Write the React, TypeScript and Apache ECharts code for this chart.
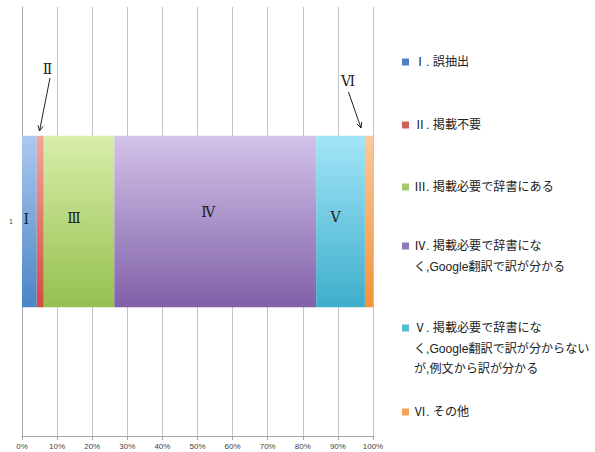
import React, { useEffect, useRef } from "react";
import * as echarts from "echarts";

const categories = ["1"];
const seriesNames = [
  "Ⅰ. 誤抽出",
  "Ⅱ. 掲載不要",
  "Ⅲ. 掲載必要で辞書にある",
  "Ⅳ. 掲載必要で辞書にな\nく,Google翻訳で訳が分かる",
  "Ⅴ. 掲載必要で辞書にな\nく,Google翻訳で訳が分からない\nが,例文から訳が分かる",
  "Ⅵ. その他",
];
const seriesValues = [4.2, 2.0, 20.1, 57.5, 13.9, 2.3];
const barLabels = ["Ⅰ", "", "Ⅲ", "Ⅳ", "Ⅴ", ""];

const topColors = ["#acc9f0", "#f4a59c", "#d9eeaa", "#d3c3e9", "#a3e5f8", "#fbc99a"];
const bottomColors = ["#4a85c6", "#d24b42", "#95c04f", "#8060a8", "#3eaecb", "#f3923a"];
const legendColors = ["#4f81bd", "#d0605a", "#a6c96a", "#9078b4", "#54bcd8", "#f7a058"];
const labelOffsets = [[-3, -3], [0, 0], [-5, -4], [-7, -10], [-5, -5], [0, 0]];
const legendCenters = [62, 125, 187, 246, 328, 412];

export default function App() {
  const ref = useRef<HTMLDivElement>(null);
  useEffect(() => {
    if (!ref.current) return;
    const chart = echarts.init(ref.current, null, { renderer: "svg" });
    const h = 20.5;
    const legends = seriesNames.map((name, i) => {
      const lines = name.split("\n").length;
      const tall = lines * h;
      const icon =
        lines > 1
          ? `path://M0,${h / 2 - 3.5}h7v7h-7z M0,0L0,0 M7,${tall}L7,${tall}`
          : "rect";
      return {
        show: true,
        data: [{ name, itemStyle: { color: legendColors[i] } }],
        left: 402,
        top: legendCenters[i] - h / 2,
        orient: "vertical",
        padding: 0,
        itemWidth: 7,
        itemHeight: lines > 1 ? tall : 7,
        itemGap: 0,
        icon,
        selectedMode: false,
        textStyle: {
          fontFamily: "'Liberation Sans', 'Noto Sans CJK JP', sans-serif",
          fontSize: 12.1,
          color: "#222",
          lineHeight: h,
        },
      };
    });
    const series = seriesNames.map((name, i) => ({
      name,
      type: "bar",
      stack: "total",
      barWidth: "40%",
      data: [seriesValues[i]],
      itemStyle: {
        color: new echarts.graphic.LinearGradient(0, 0, 0, 1, [
          { offset: 0, color: topColors[i] },
          { offset: 1, color: bottomColors[i] },
        ]),
      },
      label: {
        show: barLabels[i] !== "",
        position: "inside",
        formatter: () => barLabels[i],
        offset: labelOffsets[i],
        fontFamily: "'DejaVu Serif', 'Liberation Serif', serif",
        fontSize: 14,
        color: "#1a1a1a",
      },
    }));
    const arrow = (x1: number, y1: number, x2: number, y2: number) => {
      const ang = Math.atan2(y2 - y1, x2 - x1);
      const L = 6;
      const a1 = ang + Math.PI - 0.45;
      const a2 = ang + Math.PI + 0.45;
      return [
        { type: "line", shape: { x1, y1, x2, y2 }, style: { stroke: "#222", lineWidth: 1 } },
        {
          type: "polyline",
          shape: {
            points: [
              [x2 + L * Math.cos(a1), y2 + L * Math.sin(a1)],
              [x2, y2],
              [x2 + L * Math.cos(a2), y2 + L * Math.sin(a2)],
            ],
          },
          style: { stroke: "#222", lineWidth: 1, fill: "none" },
        },
      ];
    };
    chart.setOption({
      animation: false,
      backgroundColor: "#fff",
      grid: { left: 22, right: 222, top: 7, bottom: 16, containLabel: false },
      legend: legends,
      xAxis: {
        type: "value",
        min: 0,
        max: 100,
        interval: 10,
        axisLabel: {
          show: true,
          formatter: "{value}%",
          fontSize: 8,
          color: "#444",
          margin: 6,
        },
        axisLine: { show: true, lineStyle: { color: "#a6a6a6" } },
        axisTick: { show: true, length: 4, lineStyle: { color: "#a6a6a6" } },
        splitLine: { show: true, lineStyle: { color: "#c4c4c4" } },
      },
      yAxis: {
        type: "category",
        data: categories,
        axisLine: { show: true, lineStyle: { color: "#a6a6a6" } },
        axisTick: { show: false },
        axisLabel: { fontSize: 7, color: "#444", margin: 9, fontFamily: "'Liberation Sans', sans-serif" },
      },
      series,
      graphic: [
        {
          type: "text",
          x: 47.5,
          y: 69,
          style: {
            text: "Ⅱ",
            font: "14px 'DejaVu Serif', 'Liberation Serif', serif",
            fill: "#222",
            align: "center",
            verticalAlign: "middle",
          },
        },
        ...arrow(50, 78, 39.5, 131),
        {
          type: "text",
          x: 348,
          y: 81,
          style: {
            text: "Ⅵ",
            font: "14px 'DejaVu Serif', 'Liberation Serif', serif",
            fill: "#222",
            align: "center",
            verticalAlign: "middle",
          },
        },
        ...arrow(348.5, 92, 361, 128),
      ],
    });
    return () => chart.dispose();
  }, []);
  return (
    <div
      ref={ref}
      style={{ position: "fixed", left: 0, top: 0, width: 595, height: 452, background: "#fff" }}
    />
  );
}
